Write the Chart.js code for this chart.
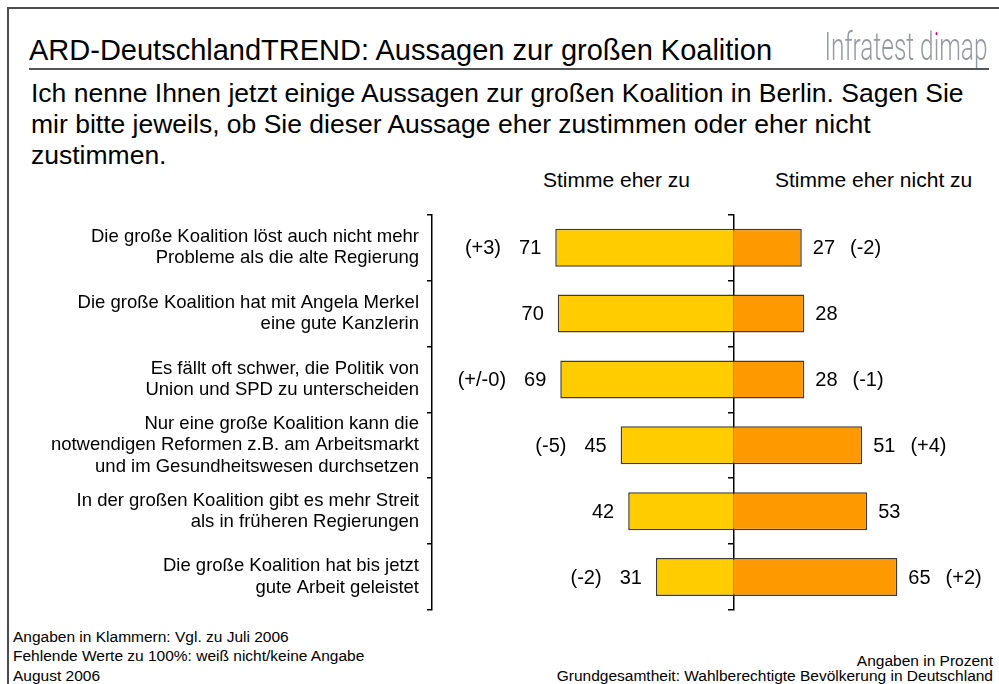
<!DOCTYPE html>
<html>
<head>
<meta charset="utf-8">
<script src="https://cdn.jsdelivr.net/npm/chart.js@4"></script>
<style>
  html, body { margin:0; padding:0; background:#fff; }
  #page { position:relative; width:999px; height:684px; overflow:hidden; background:#fff;
          font-family:"Liberation Sans", Arial, Helvetica, sans-serif; color:#000; }
  .abs { position:absolute; white-space:nowrap; }
  #chart { position:absolute; left:0; top:0; }
  .dot { background:linear-gradient(#c8006e 0 31%, #959a9f 31%); -webkit-background-clip:text; background-clip:text; color:transparent; }
</style>
</head>
<body>
<div id="page">
  <div class="abs" style="left:7px;top:7px;width:992px;height:2px;background:#4d4d4d"></div>
  <div class="abs" style="left:7px;top:7px;width:2px;height:677px;background:#4d4d4d"></div>

  <div class="abs" style="left:29px;top:36.1px;font-size:29px;line-height:1">ARD-DeutschlandTREND: Aussagen zur großen Koalition</div>
  <div id="brand" class="abs" style="right:12px;top:28.3px;font-size:38px;line-height:1;color:#959a9f;font-family:Roboto,'Liberation Sans',sans-serif;font-weight:300;transform-origin:right center">Infratest d<span class="dot">i</span>map</div>
  <div class="abs" style="left:29px;top:67.5px;width:960px;height:2px;background:#555"></div>

  <div class="abs" style="left:31px;top:77.5px;font-size:26.5px;line-height:31px">Ich nenne Ihnen jetzt einige Aussagen zur großen Koalition in Berlin. Sagen Sie<br>mir bitte jeweils, ob Sie dieser Aussage eher zustimmen oder eher nicht<br>zustimmen.</div>

  <div class="abs" style="left:543px;top:169.2px;font-size:21px;line-height:1">Stimme eher zu</div>
  <div class="abs" style="left:775px;top:169.2px;font-size:21px;line-height:1">Stimme eher nicht zu</div>

  <div class="abs" style="left:13px;top:626.6px;font-size:15.5px;line-height:19.5px">Angaben in Klammern: Vgl. zu Juli 2006<br>Fehlende Werte zu 100%: weiß nicht/keine Angabe<br>August 2006</div>
  <div class="abs" style="right:6px;top:652.6px;font-size:15.5px;line-height:15px;text-align:right">Angaben in Prozent<br>Grundgesamtheit: Wahlberechtigte Bevölkerung in Deutschland</div>

  <canvas id="chart" width="999" height="684"></canvas>
</div>
<script>
// ---- data ----
const categories = [
  ["Die große Koalition löst auch nicht mehr", "Probleme als die alte Regierung"],
  ["Die große Koalition hat mit Angela Merkel", "eine gute Kanzlerin"],
  ["Es fällt oft schwer, die Politik von", "Union und SPD zu unterscheiden"],
  ["Nur eine große Koalition kann die", "notwendigen Reformen z.B. am Arbeitsmarkt", "und im Gesundheitswesen durchsetzen"],
  ["In der großen Koalition gibt es mehr Streit", "als in früheren Regierungen"],
  ["Die große Koalition hat bis jetzt", "gute Arbeit geleistet"]
];
const agree = [71, 70, 69, 45, 42, 31];
const disagree = [27, 28, 28, 51, 53, 65];
const agreeChange = ["(+3)", "", "(+/-0)", "(-5)", "", "(-2)"];
const disagreeChange = ["(-2)", "", "(-1)", "(+4)", "", "(+2)"];
const seriesNames = ["Stimme eher zu", "Stimme eher nicht zu"];

// fit the brand logo text width
const brand = document.getElementById('brand');
const bw = brand.getBoundingClientRect().width;
brand.style.transform = 'scaleX(' + (163 / bw) + ')';

const FONT = '"Liberation Sans", Arial, Helvetica, sans-serif';

const valueLabels = {
  id: 'valueLabels',
  afterDatasetsDraw(chart) {
    const ctx = chart.ctx;
    ctx.save();
    ctx.font = '20px ' + FONT;
    ctx.fillStyle = '#000';
    ctx.textBaseline = 'middle';
    const m0 = chart.getDatasetMeta(0), m1 = chart.getDatasetMeta(1);
    m0.data.forEach((bar, i) => {
      const y = bar.y + 1;
      const txt = String(agree[i]);
      ctx.textAlign = 'right';
      const vx = bar.x - 14;
      ctx.fillText(txt, vx, y);
      if (agreeChange[i]) {
        const w = ctx.measureText(txt).width;
        ctx.fillText(agreeChange[i], vx - w - 18, y);
      }
    });
    m1.data.forEach((bar, i) => {
      const y = bar.y + 1;
      const txt = String(disagree[i]);
      ctx.textAlign = 'left';
      const vx = bar.x + 11;
      ctx.fillText(txt, vx, y);
      if (disagreeChange[i]) {
        const w = ctx.measureText(txt).width;
        ctx.fillText(disagreeChange[i], vx + w + 15, y);
      }
    });
    ctx.restore();
  }
};

new Chart(document.getElementById('chart'), {
  type: 'bar',
  data: {
    labels: categories,
    datasets: [
      { label: seriesNames[0], data: agree.map(v => -v), backgroundColor: '#FFCC00', borderColor: '#3c3c3c', borderWidth: 1.5 },
      { label: seriesNames[1], data: disagree, backgroundColor: '#FF9900', borderColor: '#3c3c3c', borderWidth: 1.5 }
    ]
  },
  options: {
    indexAxis: 'y',
    responsive: false,
    devicePixelRatio: 1,
    animation: false,
    categoryPercentage: 1,
    barPercentage: 0.577,
    layout: { padding: { top: 214.7, bottom: 74, left: 0, right: 13.6 } },
    plugins: { legend: { display: false }, tooltip: { enabled: false }, title: { display: false } },
    scales: {
      x: { type: 'linear', stacked: true, min: -120, max: 100, display: false },
      y: {
        type: 'category', stacked: true, position: 'left', offset: true,
        afterFit: s => { s.width = 432; },
        grid: { offset: true, drawOnChartArea: false, drawTicks: true, tickLength: 5, color: '#000', lineWidth: 1.5 },
        border: { display: true, color: '#000', width: 1.5 },
        ticks: { color: '#000', padding: 8, autoSkip: false, font: { family: FONT, size: 18.5, lineHeight: 1.162 } }
      },
      y2: {
        type: 'category', position: { x: 0 }, offset: true,
        grid: { offset: true, drawOnChartArea: false, drawTicks: true, tickLength: 5, color: '#000', lineWidth: 1.5 },
        border: { display: true, color: '#000', width: 1.5 },
        ticks: { display: false, autoSkip: false }
      }
    }
  },
  plugins: [valueLabels]
});
</script>
</body>
</html>
